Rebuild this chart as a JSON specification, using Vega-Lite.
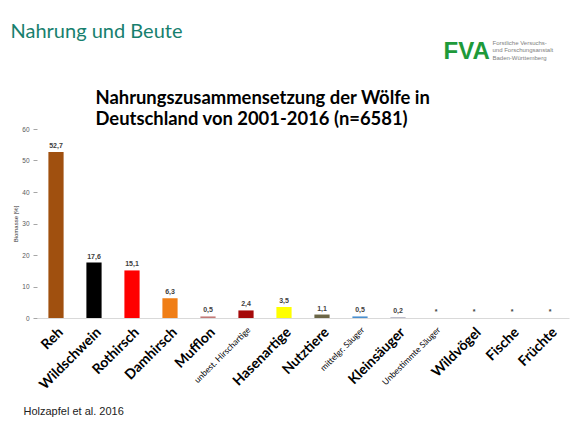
{
  "$schema": "https://vega.github.io/schema/vega-lite/v6.json",
  "autosize": "none",
  "width": 532,
  "height": 189,
  "padding": {"left": 37, "top": 129, "right": 13, "bottom": 123},
  "background": "white",
  "config": {"view": {"stroke": null}},
  "data": {"values": [
    {"cat": "Reh", "value": 52.7, "label": "52,7"},
    {"cat": "Wildschwein", "value": 17.6, "label": "17,6"},
    {"cat": "Rothirsch", "value": 15.1, "label": "15,1"},
    {"cat": "Damhirsch", "value": 6.3, "label": "6,3"},
    {"cat": "Mufflon", "value": 0.5, "label": "0,5"},
    {"cat": "unbest. Hirschartige", "value": 2.4, "label": "2,4"},
    {"cat": "Hasenartige", "value": 3.5, "label": "3,5"},
    {"cat": "Nutztiere", "value": 1.1, "label": "1,1"},
    {"cat": "mittelgr. Säuger", "value": 0.5, "label": "0,5"},
    {"cat": "Kleinsäuger", "value": 0.2, "label": "0,2"},
    {"cat": "Unbestimmte Säuger", "value": 0, "label": "*"},
    {"cat": "Wildvögel", "value": 0, "label": "*"},
    {"cat": "Fische", "value": 0, "label": "*"},
    {"cat": "Früchte", "value": 0, "label": "*"}
  ]},
  "resolve": {"axis": {"x": "independent", "y": "independent"}},
  "layer": [
    {
      "mark": {"type": "bar"},
      "encoding": {
        "x": {"field": "cat", "type": "nominal", "sort": null,
          "scale": {"paddingInner": 0.6, "paddingOuter": 0.3},
          "axis": {
            "labelAngle": -45, "labelOverlap": false, "labelLimit": 0, "labelBound": false,
            "labelFont": "Lato", "labelColor": "#000000", "labelPadding": 7,
            "labelFontSize": {"condition": {"test": "indexof(['unbest. Hirschartige','mittelgr. Säuger','Unbestimmte Säuger'], datum.value) >= 0", "value": 8.5}, "value": 14},
            "labelFontWeight": {"condition": {"test": "indexof(['unbest. Hirschartige','mittelgr. Säuger','Unbestimmte Säuger'], datum.value) >= 0", "value": "normal"}, "value": "bold"},
            "ticks": false, "domainColor": "#d9d9d9", "domainWidth": 1,
            "title": "Holzapfel et al. 2016", "titleX": -14, "titleY": 96,
            "titleAlign": "left", "titleBaseline": "alphabetic", "titleAnchor": null,
            "titleFont": "Liberation Sans", "titleFontSize": 11, "titleFontWeight": "normal", "titleColor": "#222222"
          }},
        "y": {"field": "value", "type": "quantitative",
          "scale": {"domain": [0, 60]},
          "axis": {
            "values": [0, 10, 20, 30, 40, 50, 60], "grid": false, "domain": false,
            "tickColor": "#a6a6a6", "tickSize": 4, "labelPadding": 4,
            "labelFont": "Liberation Sans", "labelFontSize": 6.5, "labelColor": "#595959",
            "title": "Biomasse [%]", "titleX": -22, "titleY": 94.5, "titleAngle": -90,
            "titleAlign": "center", "titleBaseline": "middle",
            "titleFont": "Liberation Sans", "titleFontSize": 6, "titleFontWeight": "normal", "titleColor": "#333333"
          }},
        "color": {"field": "cat", "type": "nominal", "legend": null,
          "scale": {
            "domain": ["Reh", "Wildschwein", "Rothirsch", "Damhirsch", "Mufflon", "unbest. Hirschartige", "Hasenartige", "Nutztiere", "mittelgr. Säuger", "Kleinsäuger", "Unbestimmte Säuger", "Wildvögel", "Fische", "Früchte"],
            "range": ["#a0500f", "#000000", "#ff0000", "#f07e16", "#c47a78", "#a50a0a", "#ffff00", "#6b6646", "#4a90d0", "#9a9ab0", "transparent", "transparent", "transparent", "transparent"]
          }}
      }
    },
    {
      "mark": {"type": "text", "font": "Liberation Sans", "fontSize": 7, "fontWeight": "bold", "color": "#404040", "baseline": "bottom", "dy": -3},
      "encoding": {
        "x": {"field": "cat", "type": "nominal", "sort": null,
          "axis": {"orient": "top", "labels": false, "ticks": false, "domain": false,
            "title": "Nahrung und Beute", "titleX": -27, "titleY": -92,
            "titleAlign": "left", "titleBaseline": "alphabetic", "titleAnchor": null,
            "titleFont": "Lato", "titleFontSize": 20, "titleFontWeight": "normal", "titleColor": "#17806e"}},
        "y": {"field": "value", "type": "quantitative",
          "axis": {"orient": "right", "labels": false, "ticks": false, "domain": false, "grid": false,
            "title": ["Forstliche Versuchs-", "und Forschungsanstalt", "Baden-Württemberg"],
            "titleX": -77, "titleY": -90, "titleAngle": 0,
            "titleAlign": "left", "titleBaseline": "top", "titleLineHeight": 7.5,
            "titleFont": "Liberation Sans", "titleFontSize": 6, "titleFontWeight": "normal", "titleColor": "#808080"}},
        "text": {"field": "label"}
      }
    },
    {
      "data": {"values": []},
      "mark": {"type": "text"},
      "encoding": {
        "x": {"field": "cat", "type": "nominal", "sort": null,
          "axis": {"orient": "top", "labels": false, "ticks": false, "domain": false,
            "title": ["Nahrungszusammensetzung der Wölfe in", "Deutschland von 2001-2016 (n=6581)"],
            "titleX": 58, "titleY": -26,
            "titleAlign": "left", "titleBaseline": "alphabetic", "titleAnchor": null, "titleLineHeight": 21,
            "titleFont": "Lato", "titleFontSize": 18.4, "titleFontWeight": "bold", "titleColor": "#000000"}},
        "y": {"field": "value", "type": "quantitative",
          "axis": {"orient": "right", "labels": false, "ticks": false, "domain": false, "grid": false,
            "title": "FVA", "titleX": -126, "titleY": -71, "titleAngle": 0,
            "titleAlign": "left", "titleBaseline": "alphabetic",
            "titleFont": "Liberation Sans", "titleFontSize": 24, "titleFontWeight": "bold", "titleColor": "#1e9a3a"}}
      }
    }
  ]
}
